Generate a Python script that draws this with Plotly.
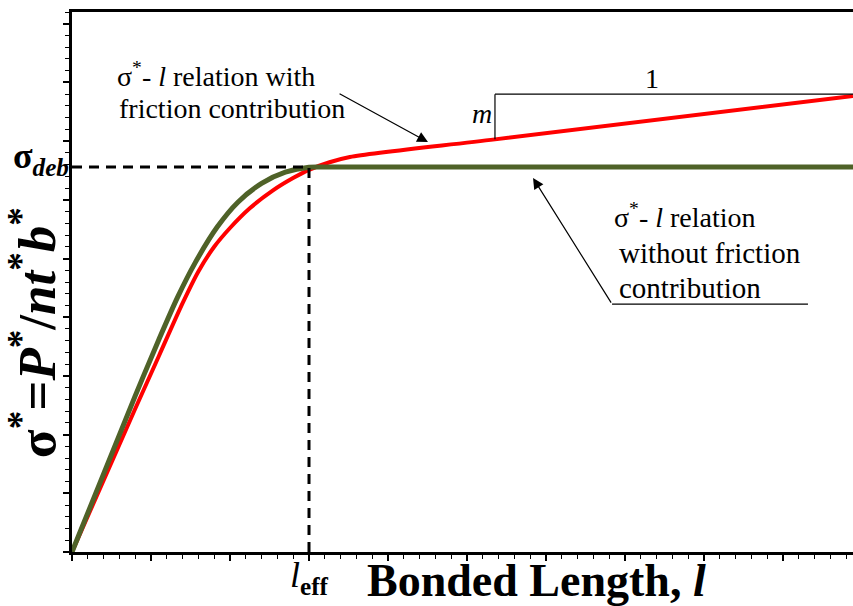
import plotly.graph_objects as go

# ---- data (arbitrary schematic units) ----
green_x = [0, 4.0, 5.5, 6.7, 7.8, 9.2, 10.5, 12.0, 13.5, 15.0, 16.0, 20.0, 30.0, 49.43]
green_y = [0, 13.3, 18.1, 21.75, 24.65, 27.7, 29.8, 31.4, 32.35, 32.78, 32.8, 32.8, 32.8, 32.8]

red_x = [0, 4.0, 5.5, 7.0, 8.0, 9.0, 10.0, 11.27, 12.72, 13.99, 15.0, 16.3, 17.59, 26.77, 49.43]
red_y = [0, 12.2, 16.7, 21.2, 23.9, 26.0, 27.6, 29.3, 30.8, 31.85, 32.55, 33.2, 33.65, 35.15, 38.84]

l_eff = 15.0
sigma_deb = 32.8
x_max = 49.43
y_max = 46.0

tri_x = 26.77
tri_y0 = 35.15
tri_y1 = 39.0

BLACK = "black"
SERIF = "Liberation Serif"

fig = go.Figure()
fig.add_trace(go.Scatter(x=red_x, y=red_y, mode="lines",
                         line=dict(color="#ff0000", width=4, shape="spline", smoothing=0.8),
                         hoverinfo="skip", showlegend=False))
fig.add_trace(go.Scatter(x=green_x, y=green_y, mode="lines",
                         line=dict(color="#4f6228", width=5, shape="spline", smoothing=0.8),
                         hoverinfo="skip", showlegend=False))

shapes = [
    # dashed guides
    dict(type="line", x0=0, x1=l_eff, y0=sigma_deb, y1=sigma_deb, xref="x", yref="y",
         line=dict(color=BLACK, width=3, dash="10px,7px")),
    dict(type="line", x0=l_eff, x1=l_eff, y0=0, y1=sigma_deb, xref="x", yref="y",
         line=dict(color=BLACK, width=3, dash="10px,7px")),
    # slope triangle
    dict(type="line", x0=tri_x, x1=tri_x, y0=tri_y0, y1=tri_y1, xref="x", yref="y",
         line=dict(color=BLACK, width=1.2)),
    dict(type="line", x0=tri_x, x1=x_max, y0=tri_y1, y1=tri_y1, xref="x", yref="y",
         line=dict(color=BLACK, width=1.2)),
    # underline for second label
    dict(type="line", x0=34.18, x1=46.58, y0=21.12, y1=21.12, xref="x", yref="y",
         line=dict(color=BLACK, width=1.2)),
]

tf = dict(family=SERIF, size=28, color=BLACK)
annotations = [
    dict(x=2.72, y=40.7, text="σ<sup>*</sup>- <i>l</i> relation with", xanchor="left", yanchor="middle",
         showarrow=False, font=tf),
    dict(x=2.85, y=37.8, text="friction contribution", xanchor="left", yanchor="middle",
         showarrow=False, font=tf),
    dict(x=34.18, y=28.7, text="σ<sup>*</sup>- <i>l</i> relation", xanchor="left", yanchor="middle",
         showarrow=False, font=tf),
    dict(x=34.49, y=25.47, text="without friction", xanchor="left", yanchor="middle",
         showarrow=False, font=dict(family=SERIF, size=29, color=BLACK)),
    dict(x=34.49, y=22.45, text="contribution", xanchor="left", yanchor="middle",
         showarrow=False, font=dict(family=SERIF, size=29, color=BLACK)),
    dict(x=25.95, y=37.39, text="<i>m</i>", xanchor="center", yanchor="middle",
         showarrow=False, font=dict(family=SERIF, size=28, color=BLACK)),
    dict(x=36.71, y=40.3, text="1", xanchor="center", yanchor="middle",
         showarrow=False, font=dict(family=SERIF, size=28, color=BLACK)),
    # arrows
    dict(x=22.53, y=34.92, ax=16.84, ay=39.10, axref="x", ayref="y", xref="x", yref="y",
         text="", showarrow=True, arrowhead=2, arrowsize=1.8, arrowwidth=1.2, arrowcolor=BLACK,
         standoff=0, startstandoff=0),
    dict(x=29.18, y=31.86, ax=34.18, ay=21.12, axref="x", ayref="y", xref="x", yref="y",
         text="", showarrow=True, arrowhead=2, arrowsize=1.8, arrowwidth=1.2, arrowcolor=BLACK,
         standoff=0, startstandoff=0),
    # axis labels
    dict(x=-0.05, xref="paper", y=0.407, yref="paper", textangle=-90,
         text="<b>σ<sup>*</sup>=<i>P</i><sup>*</sup>/<i>nt</i><sup>*</sup><i>b</i><sup>*</sup></b>",
         showarrow=False, xanchor="center", yanchor="middle",
         font=dict(family=SERIF, size=53, color=BLACK)),
    dict(x=0, xref="paper", y=sigma_deb, yref="y",
         text="<b>σ<sub><i>deb</i></sub></b>", showarrow=False, xanchor="right", yanchor="middle",
         font=dict(family=SERIF, size=36, color=BLACK), xshift=-1, yshift=8),
    dict(x=l_eff, y=-0.048, yref="paper", xref="x",
         text="<i>l</i><sub><b>eff</b></sub>", showarrow=False, xanchor="center", yanchor="middle",
         font=dict(family=SERIF, size=36, color=BLACK)),
    dict(x=0.375, xref="paper", y=-0.052, yref="paper",
         text="<b>Bonded Length, <i>l</i></b>", showarrow=False, xanchor="left", yanchor="middle",
         font=dict(family=SERIF, size=46, color=BLACK)),
]

axis_common = dict(showgrid=False, zeroline=False, showticklabels=False,
                   showline=True, linecolor=BLACK, linewidth=2.5,
                   ticks="outside", ticklen=6, tickwidth=1.5, tickcolor=BLACK,
                   tick0=0, dtick=5,
                   minor=dict(ticks="outside", ticklen=4, tickwidth=1.2, tickcolor=BLACK, dtick=1))

fig.update_layout(
    width=853, height=606,
    margin=dict(l=72, r=0, t=12, b=54),
    plot_bgcolor="white", paper_bgcolor="white",
    xaxis=dict(range=[0, x_max], mirror=True, **axis_common),
    yaxis=dict(range=[0, y_max], mirror=False, **axis_common),
    shapes=shapes, annotations=annotations,
    showlegend=False,
)

fig.write_html("out.html", config={"displayModeBar": False},
               post_script="document.body.style.margin='0';document.body.style.overflow='hidden';")
